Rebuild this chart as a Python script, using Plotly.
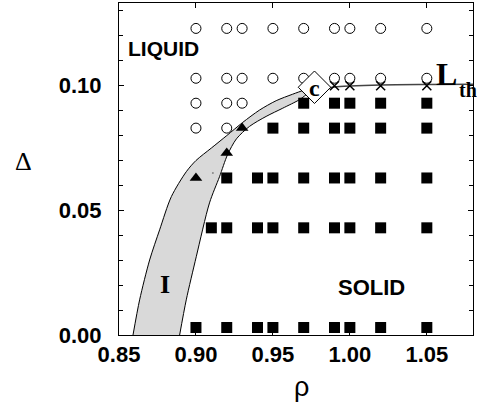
import plotly.graph_objects as go

# ---- data ----
# liquid (open circles)
liq_rho = [0.90, 0.92, 0.93, 0.95, 0.97, 0.99, 1.00, 1.02, 1.05,
           0.90, 0.92, 0.93, 0.95, 0.97, 0.99, 1.00, 1.02, 1.05,
           0.90, 0.92, 0.93,
           0.90, 0.92]
liq_delta = [0.123] * 9 + [0.103] * 9 + [0.093] * 3 + [0.083] * 2

# solid (filled squares)
sol_rho = [0.97, 0.99, 1.00, 1.02, 1.05,
           0.95, 0.97, 0.99, 1.00, 1.02, 1.05,
           0.92, 0.94, 0.95, 0.97, 0.99, 1.00, 1.02, 1.05,
           0.91, 0.92, 0.94, 0.95, 0.97, 0.99, 1.00, 1.02, 1.05,
           0.90, 0.92, 0.94, 0.95, 0.97, 0.99, 1.00, 1.02, 1.05]
sol_delta = [0.093] * 5 + [0.083] * 6 + [0.063] * 8 + [0.043] * 9 + [0.003] * 9

# intermediate (filled triangles)
tri_rho = [0.90, 0.92, 0.93]
tri_delta = [0.063, 0.073, 0.083]

# threshold crosses
x_rho = [0.99, 1.00, 1.02, 1.05]
x_delta = [0.100, 0.100, 0.100, 0.100]

# critical point
crit_rho = [0.977]
crit_delta = [0.0994]

# stray dot
dot_rho = [0.911]
dot_delta = [0.065]

# L_th line
lth_rho = [0.985, 0.99, 1.00, 1.02, 1.05, 1.08]
lth_delta = [0.0990, 0.0995, 0.0999, 0.1003, 0.1005, 0.1006]

# region I boundaries
up_rho = [0.8591, 0.8634, 0.8699, 0.8764, 0.8840, 0.8937, 0.9000, 0.9100,
          0.9200, 0.9304, 0.9412, 0.9521, 0.9628, 0.9704, 0.9756]
up_delta = [0.0, 0.0141, 0.0301, 0.0422, 0.0555, 0.0655, 0.0700, 0.0750,
            0.0800, 0.0853, 0.0902, 0.0940, 0.0966, 0.0983, 0.0994]
lo_rho = [0.8894, 0.8937, 0.9002, 0.9088, 0.9153, 0.9205, 0.9263, 0.9348,
          0.9456, 0.9564, 0.9672, 0.9715, 0.9756]
lo_delta = [0.0, 0.0141, 0.0314, 0.0530, 0.0635, 0.0723, 0.0787, 0.0837,
            0.0877, 0.0910, 0.0944, 0.0964, 0.0992]

x_ticks = [0.85, 0.90, 0.95, 1.00, 1.05]
x_ticklabels = ["0.85", "0.90", "0.95", "1.00", "1.05"]
y_ticks = [0.00, 0.05, 0.10]
y_ticklabels = ["0.00", "0.05", "0.10"]

# ---- figure ----
fig = go.Figure()

poly_x = up_rho + lo_rho[::-1]
poly_y = up_delta + lo_delta[::-1]
fig.add_trace(go.Scatter(x=poly_x, y=poly_y, mode="lines", fill="toself",
                         fillcolor="#d9d9d9",
                         line=dict(color="black", width=1, shape="spline", smoothing=0.8),
                         hoverinfo="skip"))

fig.add_trace(go.Scatter(x=lth_rho, y=lth_delta, mode="lines",
                         line=dict(color="#444444", width=1.5, shape="spline")))

fig.add_trace(go.Scatter(x=liq_rho, y=liq_delta, mode="markers",
                         marker=dict(symbol="circle-open", size=10,
                                     color="black", line=dict(width=1))))
fig.add_trace(go.Scatter(x=sol_rho, y=sol_delta, mode="markers",
                         marker=dict(symbol="square", size=11, color="black")))
fig.add_trace(go.Scatter(x=tri_rho, y=tri_delta, mode="markers",
                         marker=dict(symbol="triangle-up", size=11, color="black")))
fig.add_trace(go.Scatter(x=x_rho, y=x_delta, mode="markers",
                         marker=dict(symbol="x-thin", size=9,
                                     line=dict(color="black", width=1.5))))
fig.add_trace(go.Scatter(x=dot_rho, y=dot_delta, mode="markers",
                         marker=dict(symbol="circle", size=2, color="#888888")))
fig.add_trace(go.Scatter(x=crit_rho, y=crit_delta, mode="markers",
                         marker=dict(symbol="diamond", size=25, color="white",
                                     line=dict(color="black", width=1))))

serif = "Liberation Serif, Times New Roman, serif"
sans = "Liberation Sans, Arial, sans-serif"

annotations = [
    dict(x=0.8789, y=0.1150, text="<b>LIQUID</b>", font=dict(family=sans, size=21, color="black")),
    dict(x=1.0142, y=0.0189, text="<b>SOLID</b>", font=dict(family=sans, size=22, color="black")),
    dict(x=0.8801, y=0.0201, text="<b>I</b>", font=dict(family=serif, size=26, color="black")),
    dict(x=crit_rho[0], y=crit_delta[0] - 0.0002, text="<b>c</b>", font=dict(family=serif, size=24, color="black")),
    dict(x=1.0625, y=0.1049, text="<b>L</b>", font=dict(family=serif, size=32, color="black")),
    dict(x=1.0765, y=0.0984, text="<b>th</b>", font=dict(family=serif, size=20, color="black")),
    dict(x=-0.271, y=0.5225, xref="paper", yref="paper", text="Δ",
         font=dict(family=serif, size=26, color="black")),
    dict(x=0.515, y=-0.156, xref="paper", yref="paper", text="ρ",
         font=dict(family=sans, size=27, color="black")),
]
for a in annotations:
    a.setdefault("xref", "x")
    a.setdefault("yref", "y")
    a["showarrow"] = False
    a["xanchor"] = "center"
    a["yanchor"] = "middle"

fig.update_layout(
    width=477, height=402,
    margin=dict(l=119, r=4, t=3, b=67),
    paper_bgcolor="white", plot_bgcolor="white",
    showlegend=False,
    annotations=annotations,
    xaxis=dict(range=[0.85, 1.08], tickvals=x_ticks, ticktext=x_ticklabels,
               ticks="inside", ticklen=5, tickcolor="black", mirror="ticks",
               showline=True, linecolor="black", linewidth=1, showgrid=False,
               zeroline=False,
               tickfont=dict(family=sans, size=22, color="black", weight="bold")),
    yaxis=dict(range=[0.0, 0.1332], tickvals=y_ticks, ticktext=y_ticklabels,
               ticks="inside", ticklen=5, tickcolor="black", mirror="ticks",
               showline=True, linecolor="black", linewidth=1, showgrid=False,
               zeroline=False, ticklabelstandoff=12,
               minor=dict(dtick=0.01, ticks="inside", ticklen=4, tickcolor="black"),
               tickfont=dict(family=sans, size=22, color="black", weight="bold")),
)

fig.write_html("out.html")
